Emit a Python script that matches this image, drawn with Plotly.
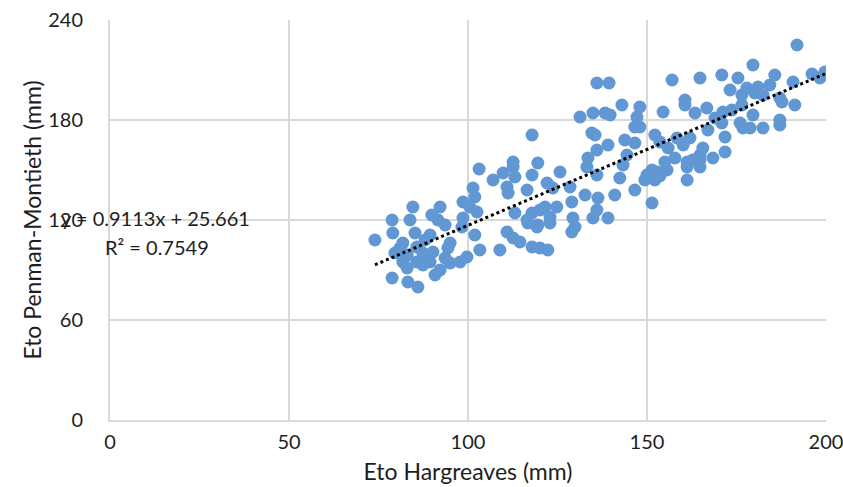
import plotly.graph_objects as go

# Eto Hargreaves (mm)
eto_hargreaves = [
    74.0, 78.8, 83.8, 84.6, 92.2, 89.9, 91.6, 93.6, 79.0, 85.2, 89.4, 81.8, 81.0, 85.7, 95.0, 94.4,
    79.6, 83.0, 87.4, 90.2, 81.8, 85.7, 89.4, 95.0, 97.8, 99.7, 83.0, 87.4, 90.8, 78.8, 83.2, 86.0,
    92.2, 88.0, 93.6, 98.6, 100.5, 102.5, 101.4, 101.9, 98.6, 98.3, 101.9, 103.3, 103.1,
    109.8, 112.6, 107.0, 113.1, 110.9, 111.2, 108.9, 110.9, 112.6, 117.9, 112.6, 119.5, 117.9,
    125.7, 122.1, 116.5, 128.5, 124.8, 121.5, 113.1, 117.9, 122.9, 116.7, 119.5, 129.3, 129.9,
    116.5, 119.3, 122.9, 117.9, 120.1, 122.3, 123.7, 120.1, 114.5,
    133.2, 136.0, 143.3, 142.4, 146.6, 150.0, 152.8, 155.6, 151.4, 141.0, 132.7, 136.3, 129.0,
    136.0, 134.9, 139.1, 129.0, 136.0, 139.4, 157.0, 143.0, 148.0, 147.2, 154.5, 131.3, 134.9,
    138.3, 139.7, 134.6, 135.5, 146.6, 148.0, 143.8, 146.6, 139.1, 136.0, 133.5, 144.4, 152.2,
    153.6, 155.9, 158.4, 155.0, 157.8, 161.2, 161.2, 164.8, 164.8, 161.2, 165.6, 168.4, 171.8,
    171.8, 167.0, 169.0, 163.4, 160.6, 151.4, 153.6, 149.4, 152.2,
    191.9, 179.6, 164.8, 170.9, 175.4, 185.7, 190.8, 196.1, 199.7, 198.3, 173.2, 177.9, 181.0,
    184.3, 176.5, 180.1, 182.4, 160.6, 166.7, 173.7, 176.5, 179.6, 187.1, 187.7, 191.3, 170.9,
    176.0, 176.8, 178.8, 182.4, 187.1, 187.1, 162.0, 160.1, 164.8, 162.8, 171.2,
]

# Eto Penman-Montieth (mm)
eto_penman = [
    108.0, 120.0, 120.0, 127.8, 127.8, 123.0, 120.0, 117.0, 112.2, 112.2, 111.0, 106.2, 103.2, 103.8, 106.2, 103.2,
    100.2, 99.0, 100.2, 100.8, 94.8, 94.8, 94.8, 94.2, 94.8, 97.8, 91.2, 93.0, 87.0, 85.2, 82.8, 79.8,
    90.0, 108.0, 97.2, 130.8, 127.8, 124.8, 139.2, 133.8, 121.2, 115.8, 111.0, 102.0, 150.6,
    148.2, 151.8, 144.0, 145.8, 139.8, 136.2, 102.0, 112.8, 109.2, 171.0, 154.8, 154.2, 147.0,
    148.8, 142.2, 138.0, 139.8, 127.8, 127.8, 124.2, 124.2, 121.8, 118.2, 117.0, 121.2, 115.8,
    120.0, 115.8, 118.2, 103.8, 103.2, 102.0, 139.2, 126.0, 106.8,
    151.8, 147.0, 153.0, 145.2, 138.0, 147.0, 148.8, 150.0, 130.2, 135.0, 135.0, 133.2, 130.8,
    126.0, 121.2, 121.2, 112.8, 202.2, 202.2, 204.0, 189.0, 187.8, 181.8, 184.8, 181.8, 184.2,
    184.2, 183.0, 172.2, 171.0, 175.8, 175.8, 168.0, 166.2, 165.0, 162.0, 157.2, 159.0, 171.0,
    166.8, 163.2, 169.2, 154.8, 157.2, 154.8, 144.0, 156.0, 151.8, 151.8, 163.2, 157.2, 160.8,
    169.8, 174.0, 181.2, 184.2, 192.0, 150.0, 146.4, 144.0, 144.0,
    225.0, 213.0, 205.2, 207.0, 205.2, 207.0, 202.8, 207.6, 208.8, 205.2, 198.0, 199.2, 199.8,
    201.0, 195.0, 196.2, 195.0, 189.0, 187.2, 186.0, 189.0, 183.0, 193.2, 190.8, 189.0, 178.2,
    178.2, 175.2, 175.2, 175.2, 180.0, 177.0, 169.2, 165.0, 159.0, 156.0, 184.8,
]

slope = 0.9113
intercept = 25.661
equation_text = "y = 0.9113x + 25.661"
r2_text = "R² = 0.7549"

x_ticks = [0, 50, 100, 150, 200]
y_ticks = [0, 60, 120, 180, 240]

trend_x = [min(eto_hargreaves), max(eto_hargreaves)]
trend_y = [slope * v + intercept for v in trend_x]

FONT = "Lato, 'Open Sans', sans-serif"
GRID = "#d9d9d9"
TXT = "#1e1e1e"

fig = go.Figure()
fig.add_trace(go.Scatter(
    x=eto_hargreaves, y=eto_penman, mode="markers",
    marker=dict(color="#6198d3", size=13, line=dict(width=0)),
    showlegend=False, hoverinfo="x+y",
))
fig.add_trace(go.Scatter(
    x=trend_x, y=trend_y, mode="lines",
    line=dict(color="black", width=3, dash="dot"),
    showlegend=False, hoverinfo="skip",
))

fig.update_layout(
    width=843, height=487,
    margin=dict(l=110, r=17, t=20, b=67, autoexpand=False),
    paper_bgcolor="white", plot_bgcolor="white",
    font=dict(family=FONT, size=20, color=TXT),
    xaxis=dict(
        range=[0, 200], tickvals=x_ticks, ticktext=[str(v) for v in x_ticks],
        showgrid=True, gridcolor=GRID, gridwidth=2,
        showline=True, linecolor=GRID, linewidth=2,
        zeroline=False, ticks="", ticklabelstandoff=3, automargin=False,
        ticklabeloverflow="allow",
        title=dict(text="Eto Hargreaves (mm)", font=dict(size=23, family=FONT, color=TXT), standoff=12),
        tickfont=dict(size=20, family=FONT, color=TXT),
    ),
    yaxis=dict(
        range=[0, 240], tickvals=y_ticks, ticktext=[str(v) for v in y_ticks],
        showgrid=True, gridcolor=GRID, gridwidth=2,
        showline=True, linecolor=GRID, linewidth=2,
        zeroline=False, ticks="", ticklabelstandoff=21, automargin=False,
        ticklabeloverflow="allow",
        title=dict(text="Eto Penman-Montieth (mm)", font=dict(size=23, family=FONT, color=TXT), standoff=0),
        tickfont=dict(size=20, family=FONT, color=TXT),
    ),
    annotations=[
        dict(xref="paper", yref="paper", x=0.198, y=0.505, xanchor="right", yanchor="middle",
             text=equation_text, showarrow=False, font=dict(size=20, family=FONT, color=TXT)),
        dict(xref="paper", yref="paper", x=0.141, y=0.4325, xanchor="right", yanchor="middle",
             text=r2_text, showarrow=False, font=dict(size=20, family=FONT, color=TXT)),
    ],
)

fig.write_html(
    "out.html",
    config={"displayModeBar": False},
    post_script=(
        "document.body.style.margin='0';"
        "document.body.style.overflow='hidden';"
        "document.documentElement.style.overflow='hidden';"
        "window.scrollTo(0,0);"
    ),
)
